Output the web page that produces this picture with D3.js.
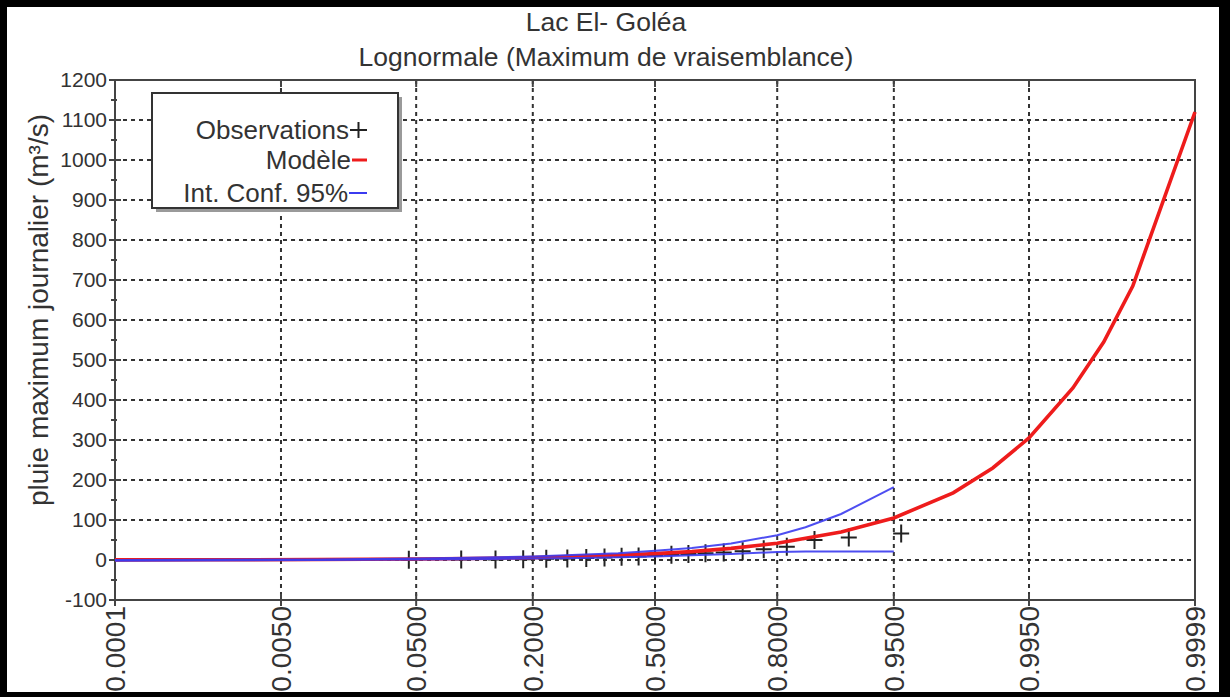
<!DOCTYPE html>
<html>
<head>
<meta charset="utf-8">
<script src="https://cdn.jsdelivr.net/npm/d3@7"></script>
<style>
  html, body { margin: 0; padding: 0; background: #000; }
  svg { display: block; }
  text { font-family: "Liberation Sans", Arial, sans-serif; fill: #333; }
</style>
</head>
<body>
<svg id="chart" width="1230" height="697"></svg>
<script>
// ---- Data ----------------------------------------------------------------
const titleLines = ["Lac El- Goléa", "Lognormale (Maximum de vraisemblance)"];
const yAxisTitle = "pluie maximum journalier (m³/s)";

// probability ticks on the normal-probability axis
const xTickProbs  = [0.0001, 0.005, 0.05, 0.2, 0.5, 0.8, 0.95, 0.995, 0.9999];
const xTickLabels = ["0.0001", "0.0050", "0.0500", "0.2000", "0.5000", "0.8000", "0.9500", "0.9950", "0.9999"];
const yTicks = [-100, 0, 100, 200, 300, 400, 500, 600, 700, 800, 900, 1000, 1100, 1200];

// observations (plotting position, value)
const obsProb  = [0.045, 0.091, 0.136, 0.182, 0.227, 0.273, 0.318, 0.364, 0.409, 0.455, 0.5,
                  0.545, 0.591, 0.636, 0.682, 0.727, 0.773, 0.818, 0.864, 0.909, 0.955];
const obsValue = [0.5, 1, 1.5, 2, 3, 4, 5, 6, 8, 9, 11,
                  13, 15, 17, 19, 22, 27, 33, 50, 56, 66];

// fitted lognormal model
const modelProb  = [0.0001, 0.001, 0.01, 0.05, 0.1, 0.2, 0.3, 0.4, 0.5, 0.6, 0.7,
                    0.8, 0.9, 0.95, 0.98, 0.99, 0.995, 0.998, 0.999, 0.9995, 0.9999];
const modelValue = [0.2, 0.5, 1.1, 2.5, 3.7, 6, 9, 12, 16, 21, 29,
                    42, 70, 105, 168, 230, 305, 430, 545, 685, 1120];

// 95% confidence interval
const ciProb  = [0.0001, 0.01, 0.05, 0.1, 0.2, 0.3, 0.4, 0.5, 0.6, 0.7, 0.8, 0.85, 0.9, 0.95];
const ciUpper = [0, 1.5, 3.5, 5.5, 9, 13, 17, 23, 30, 41, 62, 82, 115, 182];
const ciLower = [-2, 0, 1, 2, 3.5, 5, 7, 9, 12, 15, 20, 21, 21, 21];

const legendItems = ["Observations", "Modèle", "Int. Conf. 95%"];

// ---- Normal quantile (Acklam) for the probability axis -----------------
function probit(p) {
  const a = [-3.969683028665376e+01, 2.209460984245205e+02, -2.759285104469687e+02,
             1.383577518672690e+02, -3.066479806614716e+01, 2.506628277459239e+00];
  const b = [-5.447609879822406e+01, 1.615858368580409e+02, -1.556989798598866e+02,
             6.680131188771972e+01, -1.328068155288572e+01];
  const c = [-7.784894002430293e-03, -3.223964580411365e-01, -2.400758277161838e+00,
             -2.549671324348420e+00, 4.374664141464968e+00, 2.938163982698783e+00];
  const d = [7.784695709041462e-03, 3.224671290700398e-01, 2.445134137142996e+00,
             3.754408661907416e+00];
  const pl = 0.02425, ph = 1 - pl;
  let q, r;
  if (p < pl) {
    q = Math.sqrt(-2 * Math.log(p));
    return (((((c[0]*q+c[1])*q+c[2])*q+c[3])*q+c[4])*q+c[5]) / ((((d[0]*q+d[1])*q+d[2])*q+d[3])*q+1);
  } else if (p <= ph) {
    q = p - 0.5; r = q * q;
    return (((((a[0]*r+a[1])*r+a[2])*r+a[3])*r+a[4])*r+a[5])*q / (((((b[0]*r+b[1])*r+b[2])*r+b[3])*r+b[4])*r+1);
  } else {
    q = Math.sqrt(-2 * Math.log(1 - p));
    return -(((((c[0]*q+c[1])*q+c[2])*q+c[3])*q+c[4])*q+c[5]) / ((((d[0]*q+d[1])*q+d[2])*q+d[3])*q+1);
  }
}

// ---- Layout ----------------------------------------------------------------
const W = 1230, H = 697;
const plot = { left: 115, right: 1195, top: 80, bottom: 600 };

const svg = d3.select("#chart");

// page area inside a black picture frame
svg.append("rect").attr("width", W).attr("height", H).attr("fill", "#000");
const page = svg.append("g");
page.append("rect").attr("x", 7).attr("y", 7).attr("width", 1212).attr("height", 685)
  .attr("fill", "#fff");

const zScale = d3.scaleLinear()
  .domain([probit(0.0001), probit(0.9999)])
  .range([plot.left, plot.right]);
const x = p => zScale(probit(p));
const y = d3.scaleLinear().domain([-100, 1200]).range([plot.bottom, plot.top]);

// ---- Titles ----------------------------------------------------------------
page.selectAll("text.title").data(titleLines).join("text")
  .attr("class", "title")
  .attr("x", 606)
  .attr("y", (d, i) => 31 + i * 35)
  .attr("text-anchor", "middle")
  .attr("font-size", 26.5)
  .text(d => d);

// ---- Grid ------------------------------------------------------------------
const grid = page.append("g").attr("stroke", "#333").attr("stroke-width", 2)
  .attr("stroke-dasharray", "4,4");
grid.selectAll("line.h").data(yTicks.filter(v => v > -100 && v < 1200)).join("line")
  .attr("x1", plot.left).attr("x2", plot.right)
  .attr("y1", d => y(d)).attr("y2", d => y(d));
grid.selectAll("line.v").data(xTickProbs.slice(1, -1)).join("line")
  .attr("y1", plot.top).attr("y2", plot.bottom)
  .attr("x1", d => x(d)).attr("x2", d => x(d));

// ---- Axes ------------------------------------------------------------------
const axisColor = "#444";
page.append("rect")
  .attr("x", plot.left).attr("y", plot.top)
  .attr("width", plot.right - plot.left).attr("height", plot.bottom - plot.top)
  .attr("fill", "none").attr("stroke", axisColor).attr("stroke-width", 2);

// left axis: major ticks crossing the axis, minor ticks every 50
const yAxisG = page.append("g").attr("stroke", axisColor).attr("stroke-width", 2);
yAxisG.selectAll("line.maj").data(yTicks).join("line")
  .attr("x1", plot.left - 6).attr("x2", plot.left + 6)
  .attr("y1", d => y(d)).attr("y2", d => y(d));
yAxisG.selectAll("line.min").data(yTicks.slice(0, -1).map(v => v + 50)).join("line")
  .attr("x1", plot.left - 4).attr("x2", plot.left + 2)
  .attr("y1", d => y(d)).attr("y2", d => y(d));

page.selectAll("text.ytick").data(yTicks).join("text")
  .attr("class", "ytick")
  .attr("x", plot.left - 8)
  .attr("y", d => y(d))
  .attr("dy", "0.35em")
  .attr("text-anchor", "end")
  .attr("font-size", 21)
  .text(d => d === -100 ? "-100" : d);

// bottom axis ticks and top inward ticks
const xAxisG = page.append("g").attr("stroke", axisColor).attr("stroke-width", 2);
xAxisG.selectAll("line.b").data(xTickProbs).join("line")
  .attr("x1", d => x(d)).attr("x2", d => x(d))
  .attr("y1", plot.bottom - 6).attr("y2", plot.bottom + 6);
xAxisG.selectAll("line.t").data(xTickProbs).join("line")
  .attr("x1", d => x(d)).attr("x2", d => x(d))
  .attr("y1", plot.top).attr("y2", plot.top + 7);

page.selectAll("text.xtick").data(xTickProbs).join("text")
  .attr("class", "xtick")
  .attr("transform", d => `translate(${x(d)},${plot.bottom + 6}) rotate(-90)`)
  .attr("dy", "0.35em")
  .attr("text-anchor", "end")
  .attr("font-size", 28)
  .text((d, i) => xTickLabels[i]);

page.append("text")
  .attr("transform", `translate(38,310) rotate(-90)`)
  .attr("text-anchor", "middle")
  .attr("dy", "0.35em")
  .attr("font-size", 28)
  .text(yAxisTitle);

// ---- Series ----------------------------------------------------------------
const line = d3.line().x(d => x(d[0])).y(d => y(d[1]));

// observations as "+" markers
page.append("g").selectAll("path.obs").data(d3.zip(obsProb, obsValue)).join("path")
  .attr("d", d => {
    const cx = x(d[0]), cy = y(d[1]), s = 9;
    return `M${cx - s + 1},${cy}H${cx + s - 1}M${cx},${cy - s}V${cy + s}`;
  })
  .attr("stroke", "#222").attr("stroke-width", 2).attr("fill", "none");

// model
page.append("path").datum(d3.zip(modelProb, modelValue))
  .attr("d", line).attr("fill", "none")
  .attr("stroke", "#ee1c1c").attr("stroke-width", 3.6);

// confidence interval
[ciUpper, ciLower].forEach(vals => {
  page.append("path").datum(d3.zip(ciProb, vals))
    .attr("d", line).attr("fill", "none")
    .attr("stroke", "#3b3bf0").attr("stroke-width", 2).attr("stroke-opacity", 0.9);
});

// ---- Legend ----------------------------------------------------------------
const lg = { x: 152, y: 93, w: 246, h: 115 };
page.append("rect").attr("x", lg.x + 4).attr("y", lg.y + 4)
  .attr("width", lg.w).attr("height", lg.h).attr("fill", "#9a9a9a");
page.append("rect").attr("x", lg.x).attr("y", lg.y)
  .attr("width", lg.w).attr("height", lg.h)
  .attr("fill", "#fff").attr("stroke", "#333").attr("stroke-width", 2);

const legendY = [130, 160, 193];
page.selectAll("text.leg").data(legendItems).join("text")
  .attr("class", "leg")
  .attr("x", (d, i) => i === 0 ? 349 : (i === 1 ? 351 : 348))
  .attr("y", (d, i) => legendY[i])
  .attr("dy", "0.35em")
  .attr("text-anchor", "end")
  .attr("font-size", 26)
  .text(d => d);

page.append("path")
  .attr("d", `M350,${legendY[0]}H367M358.5,${legendY[0] - 8}V${legendY[0] + 8}`)
  .attr("stroke", "#222").attr("stroke-width", 2);
page.append("line").attr("x1", 352).attr("x2", 367)
  .attr("y1", legendY[1]).attr("y2", legendY[1])
  .attr("stroke", "#ee1c1c").attr("stroke-width", 3);
page.append("line").attr("x1", 349).attr("x2", 367)
  .attr("y1", legendY[2]).attr("y2", legendY[2])
  .attr("stroke", "#3b3bf0").attr("stroke-width", 2);

// black frame drawn last so it trims anything reaching the edge
svg.append("path")
  .attr("d", `M0,0H${W}V${H}H0Z M7,7V692H1219V7Z`)
  .attr("fill", "#000").attr("fill-rule", "evenodd");
</script>
</body>
</html>
